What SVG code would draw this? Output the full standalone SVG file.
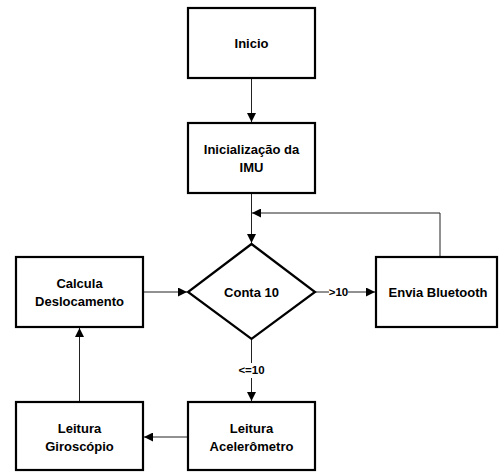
<svg xmlns="http://www.w3.org/2000/svg" width="499" height="472" viewBox="0 0 499 472">
<style>
.box{fill:#fff;stroke:#000;stroke-width:2.2}
.t{font-family:"Liberation Sans",Arial,sans-serif;font-weight:bold;font-size:13px;fill:#000;text-anchor:middle;dominant-baseline:central}
.c{fill:none;stroke:#222;stroke-width:1}
.lbl{font-family:"Liberation Sans",Arial,sans-serif;font-weight:bold;font-size:11.5px;fill:#000;text-anchor:middle;dominant-baseline:central}
</style>
<defs>
<marker id="a" viewBox="0 0 10 10" refX="10" refY="5" markerWidth="9" markerHeight="9" markerUnits="userSpaceOnUse" orient="auto">
<path d="M0,0 L10,5 L0,10 z" fill="#000"/>
</marker>
</defs>
<g id="connectors">
<line class="c" x1="251.5" y1="78" x2="251.5" y2="122" marker-end="url(#a)"/>
<line class="c" x1="251.5" y1="193" x2="251.5" y2="243" marker-end="url(#a)"/>
<polyline class="c" points="440,257 440,213 252,213" marker-end="url(#a)"/>
<line class="c" x1="315" y1="292" x2="329" y2="292"/>
<line class="c" x1="348" y1="292" x2="375" y2="292" marker-end="url(#a)"/>
<rect x="329" y="285" width="19" height="14" fill="#fff"/>
<text class="lbl" x="338.5" y="292">&gt;10</text>
<line class="c" x1="143" y1="292" x2="187" y2="292" marker-end="url(#a)"/>
<line class="c" x1="251.5" y1="338" x2="251.5" y2="401" marker-end="url(#a)"/>
<rect x="235" y="363" width="33" height="15" fill="#fff"/>
<text class="lbl" x="251.5" y="370">&lt;=10</text>
<line class="c" x1="188" y1="437" x2="144" y2="437" marker-end="url(#a)"/>
<line class="c" x1="79.5" y1="402" x2="79.5" y2="328" marker-end="url(#a)"/>
</g>
<g id="inicio">
<rect class="box" x="188" y="8" width="127" height="70"/>
<text class="t" x="251.5" y="43">Inicio</text>
</g>
<g id="imu">
<rect class="box" x="188" y="123" width="127" height="70"/>
<text class="t" x="251.5" y="149">Inicialização da</text>
<text class="t" x="251.5" y="167">IMU</text>
</g>
<g id="conta">
<polygon class="box" points="251.5,244 315,292 251.5,339 188,292"/>
<text class="t" x="251.5" y="292">Conta 10</text>
</g>
<g id="envia">
<rect class="box" x="376" y="257" width="121" height="70"/>
<text class="t" x="438" y="292">Envia Bluetooth</text>
</g>
<g id="calcula">
<rect class="box" x="16" y="257" width="127" height="70"/>
<text class="t" x="79.5" y="283">Calcula</text>
<text class="t" x="79.5" y="301">Deslocamento</text>
</g>
<g id="giroscopio">
<rect class="box" x="16" y="402" width="127" height="68"/>
<text class="t" x="79.5" y="428">Leitura</text>
<text class="t" x="79.5" y="446">Giroscópio</text>
</g>
<g id="acelerometro">
<rect class="box" x="188" y="402" width="127" height="68"/>
<text class="t" x="251.5" y="428">Leitura</text>
<text class="t" x="251.5" y="446">Acelerômetro</text>
</g>
</svg>
